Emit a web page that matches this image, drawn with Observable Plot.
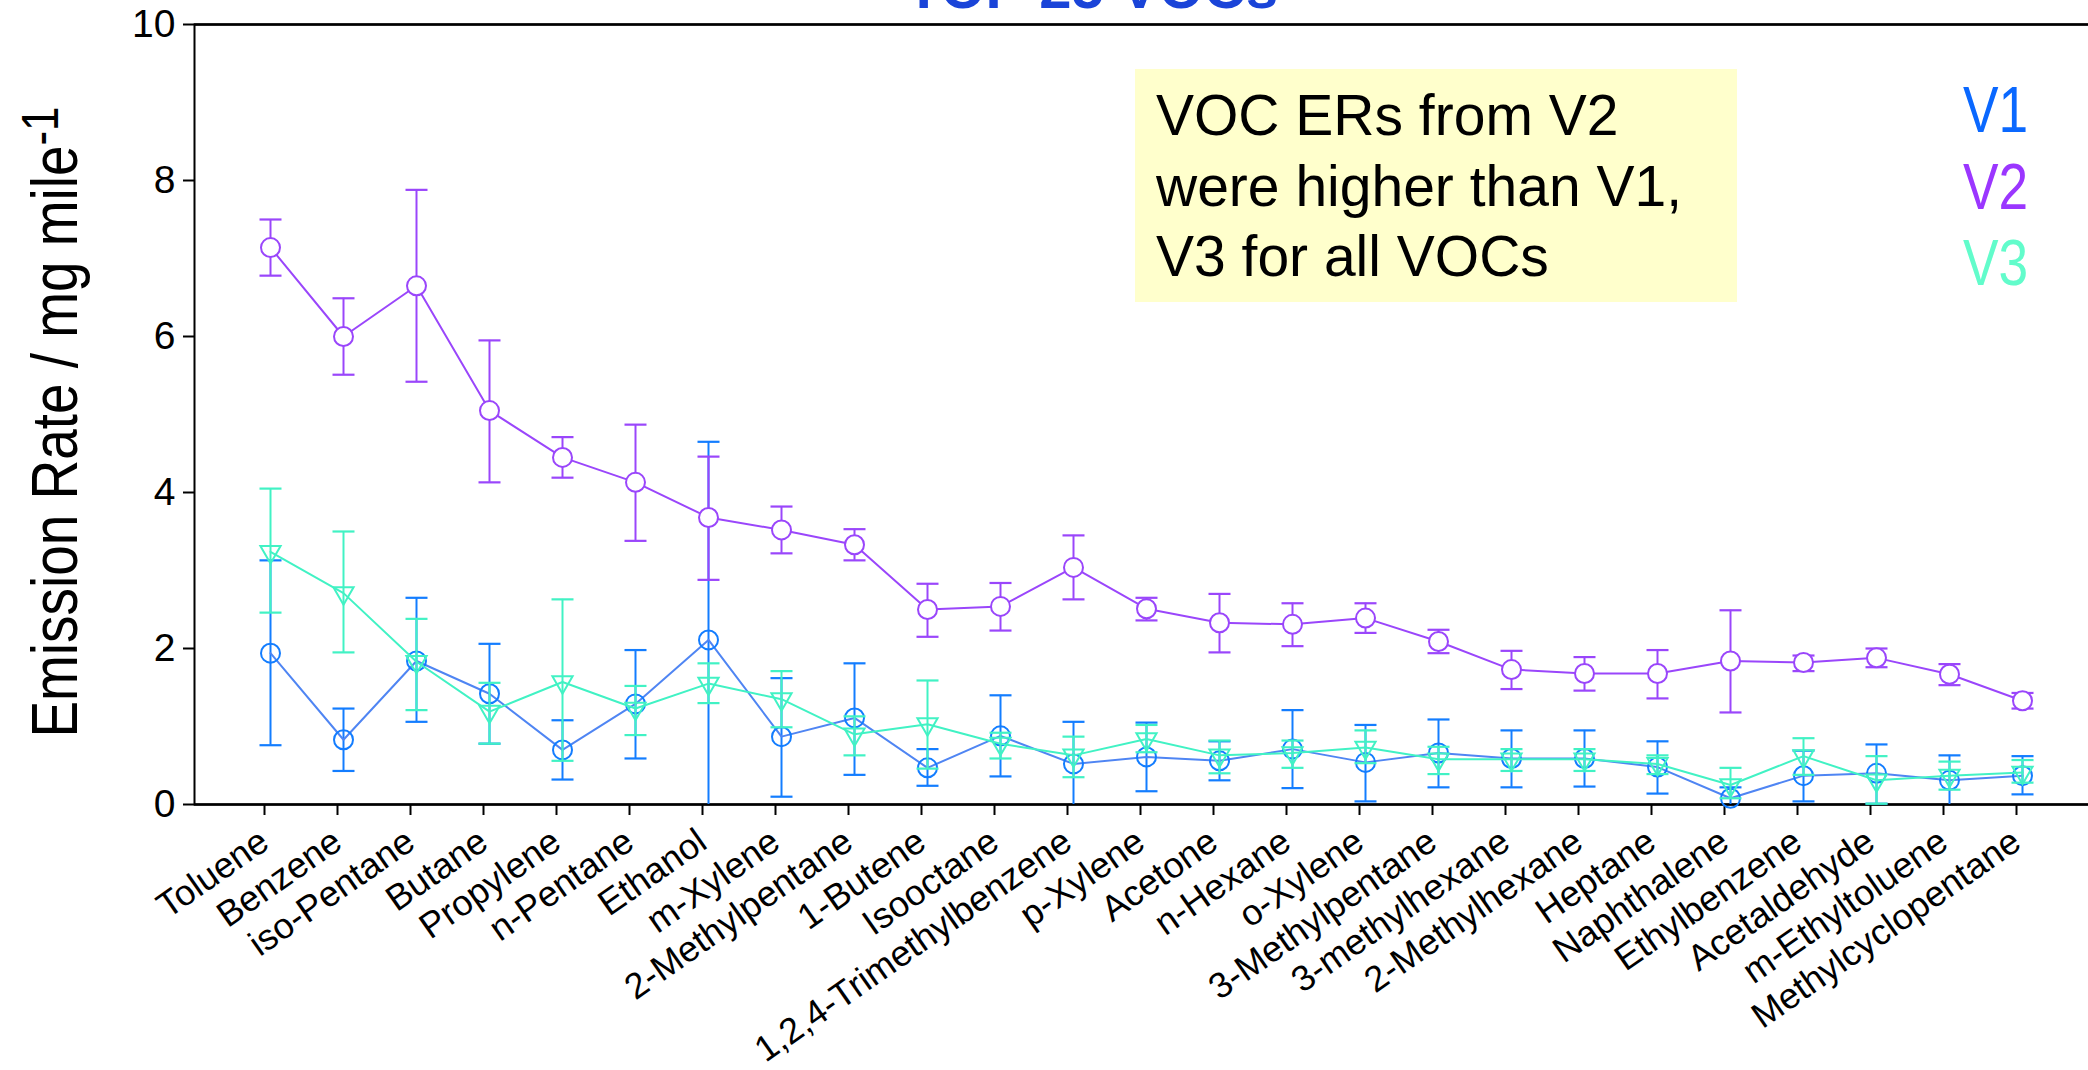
<!DOCTYPE html>
<html>
<head>
<meta charset="utf-8">
<script src="https://cdn.jsdelivr.net/npm/d3@7"></script>
<script src="https://cdn.jsdelivr.net/npm/@observablehq/plot@0.6"></script>
<style>
  html, body { margin: 0; padding: 0; background: #fff; overflow: hidden; }
  #chart { width: 2088px; height: 1070px; overflow: hidden; }
</style>
</head>
<body>
<div id="chart"></div>
<script>
// Top 25 VOC emission rates (mg/mile) for three vehicles, mean with error range
const compounds = [
  "Toluene", "Benzene", "iso-Pentane", "Butane", "Propylene", "n-Pentane", "Ethanol",
  "m-Xylene", "2-Methylpentane", "1-Butene", "Isooctane", "1,2,4-Trimethylbenzene",
  "p-Xylene", "Acetone", "n-Hexane", "o-Xylene", "3-Methylpentane", "3-methylhexane",
  "2-Methylhexane", "Heptane", "Naphthalene", "Ethylbenzene", "Acetaldehyde",
  "m-Ethyltoluene", "Methylcyclopentane"
];

const seriesNames = ["V1", "V2", "V3"];

const v1Mean = [1.94, 0.83, 1.84, 1.42, 0.70, 1.29, 2.11, 0.87, 1.11, 0.47, 0.88, 0.52, 0.61, 0.56, 0.71, 0.54, 0.66, 0.59, 0.59, 0.48, 0.08, 0.37, 0.40, 0.31, 0.37];
const v1Low  = [0.76, 0.43, 1.06, 0.78, 0.32, 0.59, -0.43, 0.10, 0.38, 0.24, 0.36, -0.02, 0.17, 0.31, 0.21, 0.04, 0.22, 0.22, 0.23, 0.14, -0.06, 0.04, 0.01, -0.05, 0.13];
const v1High = [3.13, 1.23, 2.65, 2.06, 1.08, 1.98, 4.65, 1.62, 1.81, 0.71, 1.40, 1.06, 1.05, 0.81, 1.21, 1.02, 1.09, 0.95, 0.95, 0.81, 0.22, 0.69, 0.77, 0.63, 0.62];

const v2Mean = [7.14, 6.00, 6.65, 5.05, 4.45, 4.13, 3.68, 3.52, 3.33, 2.50, 2.54, 3.04, 2.51, 2.33, 2.31, 2.39, 2.09, 1.73, 1.68, 1.68, 1.84, 1.82, 1.88, 1.67, 1.33];
const v2Low  = [6.78, 5.51, 5.42, 4.13, 4.19, 3.38, 2.88, 3.22, 3.13, 2.15, 2.23, 2.63, 2.36, 1.95, 2.03, 2.20, 1.94, 1.48, 1.46, 1.36, 1.18, 1.71, 1.76, 1.53, 1.23];
const v2High = [7.50, 6.49, 7.88, 5.95, 4.71, 4.87, 4.46, 3.82, 3.53, 2.83, 2.84, 3.45, 2.65, 2.70, 2.58, 2.58, 2.24, 1.97, 1.89, 1.98, 2.49, 1.91, 2.00, 1.80, 1.43];

const v3Mean = [3.24, 2.71, 1.83, 1.19, 1.57, 1.23, 1.55, 1.35, 0.90, 1.03, 0.78, 0.63, 0.84, 0.63, 0.66, 0.73, 0.58, 0.58, 0.58, 0.52, 0.25, 0.62, 0.31, 0.37, 0.41];
const v3Low  = [2.46, 1.95, 1.21, 0.78, 0.56, 0.89, 1.30, 0.99, 0.63, 0.46, 0.59, 0.35, 0.67, 0.40, 0.47, 0.53, 0.39, 0.43, 0.43, 0.39, 0.08, 0.38, 0.01, 0.19, 0.28];
const v3High = [4.05, 3.50, 2.38, 1.56, 2.63, 1.52, 1.81, 1.71, 1.13, 1.59, 0.92, 0.87, 1.02, 0.82, 0.82, 0.95, 0.74, 0.71, 0.71, 0.63, 0.47, 0.85, 0.62, 0.55, 0.57];

const yTicks = [0, 2, 4, 6, 8, 10];

const titleText = "TOP 25 VOCs";
const noteLines = ["VOC ERs from V2", "were higher than V1,", "V3 for all VOCs"];
const yLabelMain = "Emission Rate / mg mile";
const yLabelSup = "-1";

// colours
const markColor  = {V1: "#137dff", V2: "#9a46fb", V3: "#41f2c4"};
const lineColor  = {V1: "#4f85f3", V2: "#9a46fb", V3: "#41f2c4"};
const legendColor = {V1: "#0a68ff", V2: "#9b36ff", V3: "#62fccb"};

function rows(name, mean, lo, hi) {
  return compounds.map((c, i) => ({series: name, compound: c, mean: mean[i], lo: lo[i], hi: hi[i]}));
}
const v1 = rows("V1", v1Mean, v1Low, v1High);
const v2 = rows("V2", v2Mean, v2Low, v2High);
const v3 = rows("V3", v3Mean, v3Low, v3High);

// custom symbols: error-bar cap and downward triangle
const capSymbol = {
  draw(ctx) { ctx.moveTo(-11, 0); ctx.lineTo(11, 0); }
};
const triangleDown = {
  draw(ctx, size) {
    const h = Math.sqrt(size / (3 * Math.sqrt(3)));
    ctx.moveTo(0, 2 * h);
    ctx.lineTo(-Math.sqrt(3) * h, -h);
    ctx.lineTo(Math.sqrt(3) * h, -h);
    ctx.closePath();
  }
};

function seriesMarks(data, name, symbol, r, fill) {
  const c = markColor[name];
  return [
    Plot.ruleX(data, {x: "compound", y1: "lo", y2: "hi", stroke: c, strokeWidth: 2, clip: true}),
    Plot.dot(data, {x: "compound", y: "hi", symbol: capSymbol, r: 5, fill: "none", stroke: c, strokeWidth: 2.2}),
    Plot.dot(data.filter(d => d.lo >= 0), {x: "compound", y: "lo", symbol: capSymbol, r: 5, fill: "none", stroke: c, strokeWidth: 2.2}),
    Plot.line(data, {x: "compound", y: "mean", stroke: lineColor[name], strokeWidth: 2}),
    Plot.dot(data, {x: "compound", y: "mean", symbol, r, fill, stroke: c, strokeWidth: 2})
  ];
}

const svgNode = Plot.plot({
  width: 2100,
  height: 1070,
  marginLeft: 194,
  marginRight: 0,
  marginTop: 24,
  marginBottom: 266,
  style: "max-width: none; background: white; color: black; font-family: 'Liberation Sans', Arial, sans-serif;",
  x: {type: "point", domain: compounds, range: [267.3, 2024.3], padding: 0},
  y: {domain: [0, 10]},
  marks: [
    Plot.frame({stroke: "black", strokeWidth: 2}),
    Plot.ruleY([0, 10], {stroke: "black", strokeWidth: 2.6}),
    Plot.axisY({ticks: yTicks, tickSize: 11, tickPadding: 8, fontSize: 39, label: null, strokeWidth: 2, tickFormat: d => String(d)}),
    Plot.axisX({tickSize: 11, tickPadding: 22, dx: -6, tickRotate: -35, fontSize: 36, label: null, strokeWidth: 2}),
    ...seriesMarks(v1, "V1", "circle", 9.5, "none"),
    ...seriesMarks(v2, "V2", "circle", 9.5, "white"),
    ...seriesMarks(v3, "V3", triangleDown, 7.5, "none")
  ]
});

document.getElementById("chart").appendChild(svgNode);

const svg = d3.select(svgNode);
const font = "'Liberation Sans', Arial, sans-serif";

// title (runs off the top edge)
svg.append("text")
  .attr("x", 1092).attr("y", 8)
  .attr("text-anchor", "middle")
  .attr("font-family", font).attr("font-size", 58).attr("font-weight", "bold")
  .attr("fill", "#1a44d8")
  .text(titleText);

// note box
svg.append("rect")
  .attr("x", 1135).attr("y", 69).attr("width", 602).attr("height", 233)
  .attr("fill", "#ffffcc");
noteLines.forEach((t, i) => {
  svg.append("text")
    .attr("x", 1156).attr("y", 135 + 70.5 * i)
    .attr("text-anchor", "start")
    .attr("font-family", font).attr("font-size", 57)
    .attr("fill", "black")
    .text(t);
});

// series key
seriesNames.forEach((name, i) => {
  svg.append("text")
    .attr("transform", `translate(1963,${132 + 76.5 * i}) scale(0.82,1)`)
    .attr("text-anchor", "start")
    .attr("font-family", font).attr("font-size", 65)
    .attr("fill", legendColor[name])
    .text(name);
});

// y-axis title with superscript
const yl = svg.append("text")
  .attr("transform", "translate(77,422) rotate(-90) scale(0.845,1)")
  .attr("text-anchor", "middle")
  .attr("font-family", font).attr("font-size", 65)
  .attr("fill", "black");
yl.append("tspan").text(yLabelMain);
yl.append("tspan").attr("dy", "-0.36em").attr("font-size", "80%").text(yLabelSup);
</script>
</body>
</html>
